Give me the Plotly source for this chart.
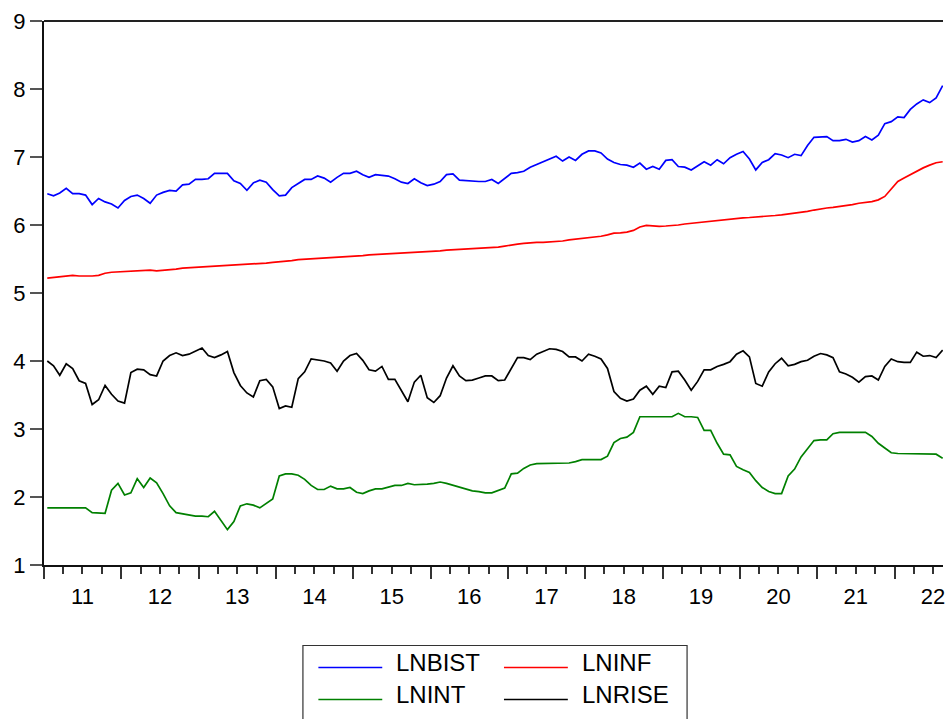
import pandas as pd
import plotly.graph_objects as go

# ---- data (monthly, 2011M01 .. 2022M08) ----
start_month = "2011-01-01"
n_obs = 140
months = pd.date_range(start_month, periods=n_obs, freq="MS")

year_labels = ["11", "12", "13", "14", "15", "16", "17", "18", "19", "20", "21", "22"]
year_mid_dates = [f"20{y}-07-02" for y in year_labels]

lnbist = [
    6.46, 6.43, 6.47, 6.54, 6.46, 6.46, 6.44, 6.30, 6.39, 6.34, 6.31, 6.25,
    6.36, 6.42, 6.44, 6.39, 6.32, 6.44, 6.48, 6.51, 6.50, 6.59, 6.60, 6.67,
    6.67, 6.68, 6.76, 6.76, 6.76, 6.65, 6.61, 6.51, 6.62, 6.66, 6.63, 6.52,
    6.43, 6.44, 6.55, 6.61, 6.67, 6.67, 6.72, 6.69, 6.63, 6.70, 6.76, 6.76,
    6.79, 6.74, 6.70, 6.74, 6.73, 6.72, 6.68, 6.63, 6.61, 6.68, 6.62, 6.58,
    6.60, 6.64, 6.74, 6.75, 6.66, 6.65, 6.64, 6.64, 6.64, 6.67, 6.61, 6.68,
    6.76, 6.77, 6.79, 6.85, 6.89, 6.93, 6.98, 7.01, 6.94, 7.00, 6.95, 7.04,
    7.09, 7.09, 7.06, 6.97, 6.92, 6.89, 6.88, 6.85, 6.91, 6.82, 6.86, 6.82,
    6.95, 6.96, 6.86, 6.85, 6.81, 6.87, 6.93, 6.88, 6.96, 6.90, 6.99, 7.04,
    7.08, 6.97, 6.81, 6.92, 6.96, 7.05, 7.03, 6.99, 7.04, 7.02, 7.17, 7.29,
    7.30, 7.30, 7.24, 7.24, 7.26, 7.22, 7.24, 7.30, 7.25, 7.32, 7.49, 7.52,
    7.59, 7.58, 7.70, 7.78, 7.84, 7.80, 7.87, 8.05,
]

lninf = [
    5.22, 5.23, 5.23, 5.245, 5.26, 5.25, 5.245, 5.25, 5.26, 5.29, 5.305, 5.31,
    5.315, 5.32, 5.325, 5.34, 5.335, 5.325, 5.33, 5.34, 5.35, 5.365, 5.37, 5.38,
    5.385, 5.39, 5.395, 5.40, 5.40, 5.405, 5.41, 5.415, 5.425, 5.435, 5.44, 5.45,
    5.455, 5.465, 5.475, 5.49, 5.495, 5.50, 5.51, 5.51, 5.515, 5.52, 5.525, 5.53,
    5.54, 5.55, 5.56, 5.565, 5.565, 5.57, 5.575, 5.58, 5.59, 5.595, 5.60, 5.605,
    5.61, 5.62, 5.63, 5.635, 5.64, 5.645, 5.65, 5.655, 5.66, 5.665, 5.675, 5.69,
    5.71, 5.72, 5.73, 5.74, 5.745, 5.745, 5.75, 5.755, 5.765, 5.78, 5.79, 5.80,
    5.81, 5.82, 5.835, 5.855, 5.88, 5.885, 5.895, 5.92, 5.97, 5.995, 5.985, 5.98,
    5.985, 5.99, 6.00, 6.015, 6.025, 6.035, 6.045, 6.06, 6.07, 6.085, 6.095, 6.10,
    6.105, 6.11, 6.115, 6.12, 6.13, 6.14, 6.15, 6.16, 6.17, 6.18, 6.20, 6.22,
    6.24, 6.25, 6.26, 6.27, 6.28, 6.30, 6.32, 6.33, 6.345, 6.37, 6.42, 6.53,
    6.64, 6.69, 6.74, 6.80, 6.84, 6.88, 6.915, 6.93,
]

lnint = [
    1.84, 1.84, 1.84, 1.84, 1.84, 1.84, 1.84, 1.77, 1.76, 1.76, 2.10, 2.20,
    2.03, 2.06, 2.27, 2.14, 2.28, 2.21, 2.05, 1.87, 1.77, 1.75, 1.73, 1.72,
    1.72, 1.71, 1.79, 1.66, 1.52, 1.64, 1.87, 1.90, 1.88, 1.84, 1.91, 1.97,
    2.31, 2.34, 2.34, 2.32, 2.26, 2.17, 2.11, 2.11, 2.16, 2.12, 2.12, 2.14,
    2.07, 2.05, 2.09, 2.12, 2.12, 2.15, 2.17, 2.17, 2.20, 2.18, 2.18, 2.19,
    2.20, 2.22, 2.20, 2.17, 2.14, 2.12, 2.09, 2.08, 2.06, 2.06, 2.10, 2.13,
    2.34, 2.35, 2.42, 2.47, 2.49, 2.49, 2.49, 2.49, 2.49, 2.50, 2.52, 2.55,
    2.55, 2.55, 2.55, 2.60, 2.80, 2.86, 2.88, 2.95, 3.18, 3.18, 3.18, 3.18,
    3.18, 3.18, 3.23, 3.18, 3.18, 3.17, 2.98, 2.98, 2.79, 2.63, 2.62, 2.45,
    2.40, 2.36, 2.24, 2.14, 2.08, 2.05, 2.05, 2.31, 2.41, 2.59, 2.71, 2.83,
    2.84, 2.84, 2.93, 2.95, 2.95, 2.95, 2.95, 2.95, 2.89, 2.79, 2.72, 2.65,
    2.64, 2.64, 2.64, 2.64, 2.64, 2.64, 2.63, 2.57,
]

lnrise = [
    4.00, 3.93, 3.79, 3.96, 3.89, 3.71, 3.67, 3.36, 3.43, 3.64, 3.51, 3.41,
    3.38, 3.83, 3.88, 3.87, 3.80, 3.78, 4.00, 4.08, 4.12, 4.08, 4.10, 4.15,
    4.19, 4.08, 4.05, 4.09, 4.14, 3.83, 3.64, 3.53, 3.47, 3.71, 3.73, 3.62,
    3.30, 3.34, 3.32, 3.74, 3.84, 4.03, 4.02, 4.00, 3.97, 3.85, 4.00, 4.08,
    4.11, 4.01, 3.87, 3.85, 3.92, 3.73, 3.73, 3.57, 3.40, 3.69, 3.79, 3.46,
    3.39, 3.49, 3.75, 3.93, 3.78, 3.71, 3.72, 3.75, 3.78, 3.78, 3.71, 3.72,
    3.89, 4.05, 4.05, 4.02, 4.10, 4.14, 4.18, 4.17, 4.14, 4.06, 4.06, 4.00,
    4.10, 4.07, 4.03, 3.89, 3.55, 3.45, 3.41, 3.44, 3.57, 3.63, 3.51, 3.63,
    3.61, 3.84, 3.85, 3.72, 3.57, 3.70, 3.87, 3.87, 3.92, 3.95, 3.99, 4.10,
    4.15, 4.06, 3.67, 3.63, 3.84, 3.96, 4.04, 3.93, 3.95, 3.99, 4.01, 4.07,
    4.11, 4.09, 4.05, 3.84, 3.81, 3.76, 3.69, 3.77, 3.78, 3.72, 3.92, 4.03,
    3.99, 3.98, 3.98, 4.13, 4.07, 4.08, 4.05, 4.16,
]

series_names = ["LNBIST", "LNINF", "LNINT", "LNRISE"]
series_values = [lnbist, lninf, lnint, lnrise]
series_colors = ["#0000FF", "#FF0000", "#008000", "#000000"]
y_ticks = [1, 2, 3, 4, 5, 6, 7, 8, 9]

# ---- layout geometry (pixels) ----
W, H = 945, 719
L, R, T, B = 44, 0, 21, 154
PW, PH = W - L - R, H - T - B


def px_x(px):
    return (px - L) / PW


def px_y(py):
    return (H - B - py) / PH


FONT = "Liberation Sans, Arial, sans-serif"
X_RANGE = ["2011-01-01", "2022-08-18"]

fig = go.Figure()
for name, vals, col in zip(series_names, series_values, series_colors):
    fig.add_trace(go.Scatter(
        x=months, y=vals, name=name, mode="lines",
        xperiod="M1", xperiodalignment="middle",
        line=dict(color=col, width=1.7),
        showlegend=False,
    ))

# helper trace so the label axis (x2) is drawn; carries no visible marks
fig.add_trace(go.Scatter(x=[X_RANGE[0]], y=[None], xaxis="x2", yaxis="y",
                         mode="lines", showlegend=False, hoverinfo="skip"))

fig.update_layout(
    width=W, height=H,
    margin=dict(l=L, r=R, t=T, b=B, pad=0),
    paper_bgcolor="white", plot_bgcolor="white",
    font=dict(family=FONT, size=22, color="black"),
    showlegend=False,
    xaxis=dict(
        type="date", range=X_RANGE,
        tick0="2011-01-01", dtick="M12",
        showticklabels=False,
        ticks="outside", ticklen=12, tickwidth=1.5, tickcolor="#333333",
        showline=True, linecolor="#111111", linewidth=2,
        showgrid=False, zeroline=False,
        minor=dict(dtick="M3", ticks="outside", ticklen=7, tickwidth=1.5,
                   tickcolor="#333333", showgrid=False),
    ),
    xaxis2=dict(
        type="date", range=X_RANGE, overlaying="x", anchor="y", side="bottom",
        tickmode="array", tickvals=year_mid_dates, ticktext=year_labels,
        ticks="outside", ticklen=12, tickcolor="rgba(0,0,0,0)",
        ticklabeloverflow="allow",
        showline=False, showgrid=False, zeroline=False,
        tickfont=dict(family=FONT, size=22, color="black"),
    ),
    yaxis=dict(
        range=[1, 9], tickvals=y_ticks, ticktext=[str(v) for v in y_ticks],
        ticks="outside", ticklen=12, tickwidth=1.5, tickcolor="#555555",
        showline=True, linecolor="#111111", linewidth=2,
        showgrid=False, zeroline=False,
        tickfont=dict(family=FONT, size=22, color="black"),
    ),
)

shapes = []
# top frame line
shapes.append(dict(type="line", xref="paper", yref="paper",
                   x0=0, x1=1, y0=1, y1=1,
                   line=dict(color="#222222", width=2)))
# legend box
shapes.append(dict(type="rect", xref="paper", yref="paper",
                   x0=px_x(303.5), x1=px_x(688.5),
                   y0=px_y(645.5), y1=px_y(730),
                   line=dict(color="#333333", width=1.2),
                   fillcolor="rgba(0,0,0,0)"))

annotations = []
legend_pos = [(319, 667.5), (505, 667.5), (319, 699.5), (505, 699.5)]
for (name, col), (lx, ly) in zip(
        [("LNBIST", "#0000FF"), ("LNINF", "#FF0000"),
         ("LNINT", "#008000"), ("LNRISE", "#000000")], legend_pos):
    shapes.append(dict(type="line", xref="paper", yref="paper",
                       x0=px_x(lx), x1=px_x(lx + 64),
                       y0=px_y(ly), y1=px_y(ly),
                       line=dict(color=col, width=1.7)))
    annotations.append(dict(xref="paper", yref="paper",
                            x=px_x(lx + 76), y=px_y(ly - 5),
                            xanchor="left", yanchor="middle",
                            text=name, showarrow=False,
                            font=dict(family=FONT, size=24, color="black")))

fig.update_layout(shapes=shapes, annotations=annotations)

fig.write_html("out.html")
